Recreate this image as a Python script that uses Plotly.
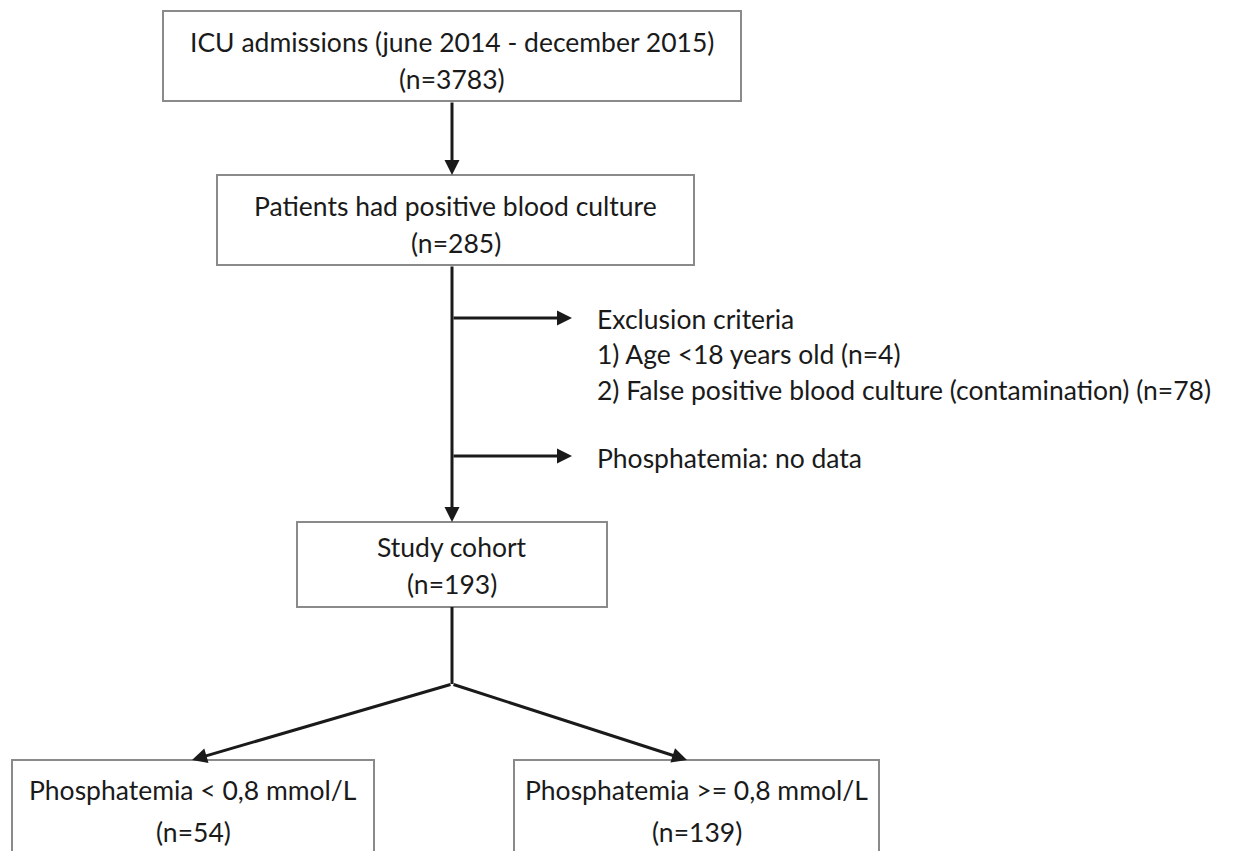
import plotly.graph_objects as go

# ---- data ----
stage_labels = [
    "ICU admissions (june 2014 - december 2015)",
    "Patients had positive blood culture",
    "Study cohort",
    "Phosphatemia < 0,8 mmol/L",
    "Phosphatemia >= 0,8 mmol/L",
]
stage_counts = [3783, 285, 193, 54, 139]
exclusion_title = "Exclusion criteria"
exclusion_items = ["1) Age <18 years old (n=4)",
                   "2) False positive blood culture (contamination) (n=78)"]
missing_label = "Phosphatemia: no data"

# ---- layout (pixel coordinates of the page) ----
W, H = 1248, 851
OFF = 8  # default body margin of the html page
FONT = "Lato"
FS = 26.5
TXT = "#1a1a1a"
BORDER = "#8a8a8a"

boxes = [  # x0, y0, x1, y1, line1_y, line2_y
    (163, 11, 741, 101, 42, 79),
    (217, 175, 694, 265, 206, 243),
    (297, 522, 607, 607, 547, 584),
    (12, 760, 374, 880, 790, 832),
    (514, 760, 879, 880, 790, 832),
]

fig = go.Figure()
fig.add_trace(go.Scatter(x=[OFF, W], y=[OFF, H], mode="markers",
                         marker=dict(opacity=0), hoverinfo="skip", showlegend=False))

shapes = []
annotations = []

for (x0, y0, x1, y1, t1, t2), lab, n in zip(boxes, stage_labels, stage_counts):
    shapes.append(dict(type="rect", x0=x0, y0=y0, x1=x1, y1=y1, xref="x", yref="y",
                       line=dict(color=BORDER, width=2), fillcolor="white", layer="below"))
    cx = (x0 + x1) / 2
    annotations.append(dict(x=cx, y=t1, text=lab, showarrow=False, xref="x", yref="y",
                            font=dict(family=FONT, size=FS, color=TXT)))
    annotations.append(dict(x=cx, y=t2, text=f"(n={n})", showarrow=False, xref="x", yref="y",
                            font=dict(family=FONT, size=FS, color=TXT)))

LW = 3
AC = "#1a1a1a"
VX = 452

def arrow(xs, ys, xe, ye):
    annotations.append(dict(x=xe, y=ye, ax=xs, ay=ys, xref="x", yref="y", axref="x", ayref="y",
                            showarrow=True, arrowhead=2, arrowsize=1, arrowwidth=LW,
                            arrowcolor=AC, text=""))

def line(xs, ys, xe, ye):
    shapes.append(dict(type="line", x0=xs, y0=ys, x1=xe, y1=ye, xref="x", yref="y",
                       line=dict(color=AC, width=LW)))

arrow(VX, 101, VX, 175)
arrow(VX, 265, VX, 522)
arrow(VX, 318, 572, 318)
arrow(VX, 456, 572, 456)
line(VX, 607, VX, 684)
arrow(VX, 684, 192, 760)
arrow(VX, 684, 687, 760)

side_x = 595
annotations.append(dict(x=side_x, y=319, text=exclusion_title, showarrow=False, xanchor="left",
                        xref="x", yref="y", font=dict(family=FONT, size=FS, color=TXT)))
for i, item in enumerate(exclusion_items):
    annotations.append(dict(x=side_x, y=354 + 36 * i, text=item, showarrow=False, xanchor="left",
                            xref="x", yref="y", font=dict(family=FONT, size=FS, color=TXT)))
annotations.append(dict(x=side_x, y=458, text=missing_label, showarrow=False, xanchor="left",
                        xref="x", yref="y", font=dict(family=FONT, size=FS, color=TXT)))

fig.update_layout(
    width=W, height=H, margin=dict(l=0, r=0, t=0, b=0),
    paper_bgcolor="white", plot_bgcolor="white",
    xaxis=dict(range=[OFF, W + OFF], visible=False, fixedrange=True),
    yaxis=dict(range=[H + OFF, OFF], visible=False, fixedrange=True),
    shapes=shapes, annotations=annotations, showlegend=False,
)
fig.write_html("out.html")
